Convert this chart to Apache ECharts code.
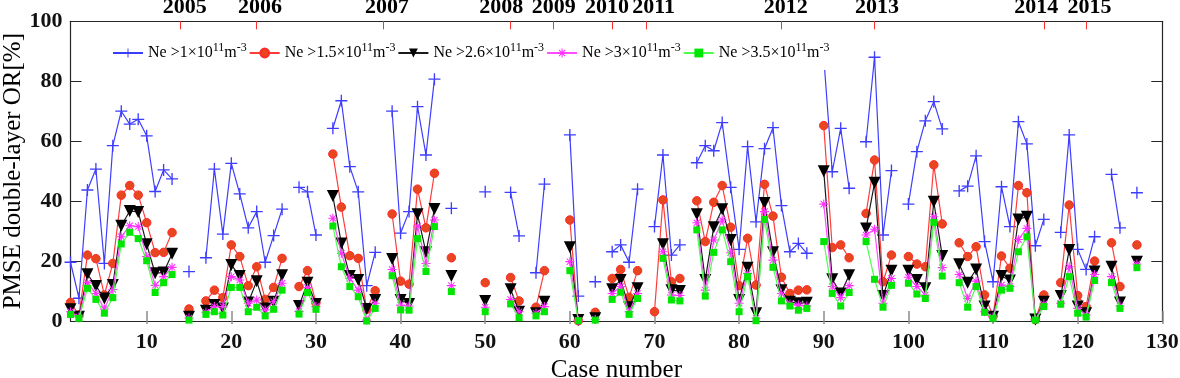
<!DOCTYPE html>
<html>
<head>
<meta charset="utf-8">
<script src="https://cdn.jsdelivr.net/npm/echarts@6/dist/echarts.min.js"></script>
<style>
  html, body { margin: 0; padding: 0; background: #fff; }
  #chart { width: 1180px; height: 378px; }
</style>
</head>
<body>
<div id="chart"></div>
<script>
// values per case number 1..127, null = no data for that case
var ne1 = [
  19.6, 7.6, 43.7, 50.7, 19.2, 58.5, 70, 65.7, 67.3, 61.8,
  43.2, 50.4, 47.4, null, 16.5, null, 21.1, 50.7, 29, 52.6,
  42.4, 31.1, 36.5, 19.6, 28.5, 37.3, null, 44.6, 43.1, 28.7,
  null, 64.3, 73.5, 51.5, 43.1, 11.8, 22.9, null, 70, 29.3,
  36.5, 71.5, 55.4, 80.7, null, 37.6, null, null, null, 43.1,
  null, null, 42.9, 28.4, null, 16.1, 45.7, null, null, 62.1,
  8.3, null, 13.1, null, 23.1, 25.4, 19.6, 44, null, 31.5,
  55.4, 22, 25.4, null, 52.8, 58.5, 56.8, 66.2, 44.6, 23.9,
  58.2, 33.1, 57.5, 64.5, 38.5, 23.1, 25.9, 22.6, null, 88,
  49.8, 64.3, 44.3, null, 59.8, 88, 28.7, 50.2, null, 39,
  56.5, 66.8, 73.2, 64.1, null, 43.4, 45, 55.1, 26.5, 13.1,
  44.8, 31.5, 66.5, 59.1, 25.1, 33.9, null, 29.6, 62.1, 23.9,
  17.2, 28.1, null, 48.9, 31.1, null, 42.8
];
var ne15 = [
  6.2, 2, 22, 20.8, 8.7, 19.2, 42, 45.2, 42, 32.8,
  22.8, 22.9, 29.5, null, 4, null, 6.7, 10.3, 7.8, 25.4,
  21.5, 11.8, 18.1, 7.2, 11.2, 20.9, null, 11.5, 16.8, 6.1,
  null, 55.7, 38, 21.8, 20.9, 3.9, 10.1, null, 35.7, 13.3,
  12.3, 44, 31.1, 49.3, null, 21.1, null, null, null, 12.8,
  null, null, 14.5, 6.7, null, 4.6, 16.8, null, null, 33.7,
  0.1, null, 2.9, null, 14.2, 17.2, 7.9, 16.8, null, 3.1,
  40.4, 13.1, 14.2, null, 40.1, 26.5, 39.6, 45.2, 31.3, 11.8,
  27.6, 12, 45.6, 35, 14.6, 9.2, 10.3, 10.4, null, 65.2,
  24.5, 25.4, 21.1, null, 35.9, 53.7, 13.1, 22, null, 21.5,
  19, 18.1, 52.1, 32.4, null, 26.1, 21.5, 24.8, 8.7, 1.7,
  21.7, 17.6, 45.2, 42.8, 0.5, 8.7, null, 12.8, 38.7, 8.5,
  4.8, 20, null, 26.1, 11.5, null, 25.4
];
var ne26 = [
  3.9, 1.4, 15.6, 11.7, 7.5, 12, 31.8, 36.7, 36.4, 25.6,
  15.9, 16.2, 22.4, null, 1.4, null, 3.4, 5.3, 4.2, 18.7,
  15, 6.2, 13.3, 4.2, 6.4, 15.3, null, 5, 12.8, 5.7,
  null, 41.7, 25.9, 15, 13.7, 4, 7, null, 20.7, 7,
  5.7, 35.6, 22.9, 37.4, null, 15, null, null, null, 6.7,
  null, null, 10.6, 3.1, null, 2.6, 6.4, null, null, 24.6,
  0.3, null, 0.9, null, 10.6, 13.7, 4.6, 10.9, null, null,
  25.6, 10.3, 10, null, 35.6, 13.7, 31.3, 37.3, 27, 7,
  17.8, 2.6, 39.4, 22.9, 10.3, 6.4, 5.9, 6.1, null, 50,
  13.9, 9.2, 15.3, null, 30.9, 46.1, 8.3, 16.8, null, 16.8,
  13.7, 10.9, 39.8, 21.7, null, 18.9, 12.8, 17.2, 4.8, 1.4,
  15, 13.5, 33.9, 34.8, 0.5, 6.4, null, 8.3, 23.7, 4.8,
  2.6, 16.5, null, 18.1, 6.2, null, 19.8
];
var ne3 = [
  3.1, 1.3, 12.8, 9.2, 4, 10.5, 28.1, 31.8, 31.5, 21.5,
  11.9, 14.8, 17.9, null, 1, null, 2.9, 4.8, 4.8, 14.8,
  13.7, 5.9, 7, 3.7, 6.4, 12.6, null, 3.2, 11.2, 4.8,
  null, 34.3, 22.6, 14.2, 10.3, 0.3, 5.9, null, 17.2, 5.3,
  5, 31.7, 19.2, 33.7, null, 11.8, null, null, null, 4.6,
  null, null, 7.2, 3.1, null, 2.6, 4.8, null, null, 19.8,
  0.2, null, 0.5, null, 9.2, 11.5, 3.1, 9.2, null, null,
  23.1, 8.7, 8.5, null, 32.8, 10.3, 27, 33.7, 22.8, 5.9,
  15.9, 0.9, 36.5, 20.3, 9.2, 5.7, 5.3, 5, null, 39,
  11.5, 7.8, 11.8, null, 28.7, 30.6, 5.9, 14.2, null, 14.6,
  11.5, 8.7, 34.8, 17.8, null, 15.5, 7.5, 13.3, 3.1, 1.3,
  12, 11.5, 27.2, 30.9, 0.5, 5.7, null, 5.9, 18.1, 4.2,
  2, 15.5, null, 14.8, 5, null, 19
];
var ne35 = [
  2.2, 0.9, 10.9, 7.2, 2.6, 7.8, 25.7, 29.6, 27.5, 20.1,
  9.5, 12.8, 15.5, null, 0.3, null, 2.2, 3.1, 2, 11.2,
  11.2, 3.1, 4.6, 1.7, 3.9, 10.3, null, 2.3, 9.5, 3.9,
  null, 31.7, 18.1, 11.5, 8.1, 0, 4.2, null, 15.1, 3.7,
  3.6, 27.5, 16.5, 31.5, null, 9.8, null, null, null, 3.1,
  null, null, 5.7, 1.1, null, 1.7, 3.1, null, null, 16.8,
  0.1, null, 0.3, null, 7.2, 9.6, 2.2, 7.5, null, null,
  20.9, 7, 6.7, null, 30.4, 8.3, 22.9, 30.4, 19.8, 3.1,
  14.8, 0.1, 33.9, 17.9, 6.7, 5, 3.6, 4.2, null, 26.5,
  9.2, 5, 9.5, null, 26.5, 13.9, 4.6, 11.9, null, 12.6,
  9, 7.5, 32.9, 15, null, 12.8, 4.6, 11.5, 2.9, 0.9,
  10.3, 10.9, 23.1, 28.1, 0.3, 4.8, null, 5.6, 14.8, 2.6,
  1.3, 13.5, null, 12.8, 4.2, null, 17.8
];

var thresholds = ['1', '1.5', '2.6', '3', '3.5'];
var xTicks = [10, 20, 30, 40, 50, 60, 70, 80, 90, 100, 110, 120, 130];
var yearTickCases = [14, 23, 38, 53, 58, 65, 69, 85, 96, 116, 121];
var yearLabelCases = [14.5, 23.4, 38.4, 51.9, 58.1, 64.4, 69.9, 85.5, 96.3, 115.1, 121.4];
var yearLabels = ['2005', '2006', '2007', '2008', '2009', '2010', '2011', '2012', '2013', '2014', '2015'];

var serif = 'Liberation Serif';
var plusPath = 'path://M0,4.45H10V5.55H0Z M4.45,0H5.55V10H4.45Z';
var starPath = 'path://M0,4.4H10V5.6H0Z M4.4,0H5.6V10H4.4Z M1.1,1.9L1.9,1.1L8.9,8.1L8.1,8.9Z M8.1,1.1L8.9,1.9L1.9,8.9L1.1,8.1Z';

function toPairs(arr) {
  return arr.map(function (v, i) { return [i + 1, v == null ? '-' : v]; });
}

var styles = [
  { values: ne1, line: '#3d3dff', fill: '#3d3dff', border: '#3d3dff', symbol: plusPath, size: 12, rotate: 0 },
  { values: ne15, line: '#ff3c3c', fill: '#e8461f', border: '#ff2a2a', symbol: 'circle', size: 8.5, rotate: 0 },
  { values: ne26, line: '#1a1a1a', fill: '#000', border: '#000', symbol: 'triangle', size: 12, rotate: 180 },
  { values: ne3, line: '#ff4dff', fill: '#ff30ff', border: '#ff30ff', symbol: starPath, size: 9, rotate: 0 },
  { values: ne35, line: '#4cff4c', fill: '#00e600', border: '#00e600', symbol: 'rect', size: 7, rotate: 0 }
];

var series = styles.map(function (s, k) {
  return {
    name: 'Ne >' + thresholds[k],
    type: 'line',
    data: toPairs(s.values),
    connectNulls: false,
    symbol: s.symbol,
    symbolSize: s.size,
    symbolRotate: s.rotate,
    showAllSymbol: true,
    lineStyle: { color: s.line, width: 1.2 },
    itemStyle: { color: s.fill, borderColor: s.border, borderWidth: k === 1 ? 1 : 0 },
    emphasis: { disabled: true },
    z: 2 + k
  };
});

var chart = echarts.init(document.getElementById('chart'), null, { renderer: 'canvas' });
chart.setOption({
  animation: false,
  backgroundColor: '#fff',
  textStyle: { fontFamily: serif },
  grid: { left: 70.5, right: 17.7, top: 21.3, bottom: 57, containLabel: false, outerBoundsMode: 'none' },
  legend: {
    left: 108, top: 33,
    padding: [9, 4, 9, 4],
    backgroundColor: '#fff',
    itemWidth: 30, itemHeight: 11, itemGap: 2,
    data: series.map(function (s) { return s.name; }),
    formatter: function (name) {
      return '{n|' + name + '×10}{s|11}{n|m}{s|-3}';
    },
    textStyle: {
      fontFamily: serif,
      color: '#000',
      rich: {
        n: { fontFamily: serif, fontSize: 16, lineHeight: 22, color: '#000' },
        s: { fontFamily: serif, fontSize: 12, lineHeight: 12, verticalAlign: 'top', color: '#000' }
      }
    }
  },
  xAxis: [
    {
      type: 'value', min: 1, max: 130, position: 'bottom',
      name: 'Case number', nameLocation: 'middle', nameGap: 37, nameMoveOverlap: false,
      nameTextStyle: { fontFamily: serif, fontSize: 25, color: '#000' },
      axisLine: { show: true, onZero: false, lineStyle: { color: '#262626', width: 1.2 } },
      axisTick: { show: true, inside: true, length: 10, customValues: xTicks, lineStyle: { color: '#8c8c8c', width: 1.5 } },
      axisLabel: { customValues: xTicks, margin: 10, fontFamily: serif, fontWeight: 'bold', fontSize: 22, color: '#111' },
      splitLine: { show: false }
    },
    {
      type: 'value', min: 1, max: 130, position: 'top',
      axisLine: { show: true, onZero: false, lineStyle: { color: '#262626', width: 1.2 } },
      axisTick: { show: true, inside: true, length: 8, customValues: yearTickCases, lineStyle: { color: '#ff3030', width: 1 } },
      axisLabel: {
        customValues: yearLabelCases, margin: 3,
        fontFamily: serif, fontWeight: 'bold', fontSize: 22, color: '#000',
        formatter: function (v) {
          for (var i = 0; i < yearLabelCases.length; i++) {
            if (Math.abs(yearLabelCases[i] - v) < 0.01) return yearLabels[i];
          }
          return '';
        }
      },
      splitLine: { show: false }
    },
    {
      type: 'value', min: 1, max: 130, position: 'top',
      axisLine: { show: false },
      axisTick: { show: true, inside: true, length: 3, customValues: xTicks, lineStyle: { color: '#8c8c8c', width: 1.5 } },
      axisLabel: { show: false },
      splitLine: { show: false }
    }
  ],
  yAxis: [
    {
      type: 'value', min: 0, max: 100, interval: 20, position: 'left',
      name: 'PMSE double-layer OR[%]', nameLocation: 'middle', nameGap: 45, nameRotate: 90, nameMoveOverlap: false,
      nameTextStyle: { fontFamily: serif, fontSize: 25, color: '#000', verticalAlign: 'bottom' },
      axisLine: { show: true, lineStyle: { color: '#262626', width: 1.2 } },
      axisTick: { show: true, inside: true, length: 11, lineStyle: { color: '#262626', width: 1 } },
      axisLabel: { margin: 8, fontFamily: serif, fontWeight: 'bold', fontSize: 22, color: '#111' },
      splitLine: { show: false }
    },
    {
      type: 'value', min: 0, max: 100, interval: 20, position: 'right',
      axisLine: { show: true, lineStyle: { color: '#262626', width: 1.2 } },
      axisTick: { show: true, inside: true, length: 11, lineStyle: { color: '#262626', width: 1 } },
      axisLabel: { show: false },
      splitLine: { show: false }
    }
  ],
  series: series
});
</script>
</body>
</html>
